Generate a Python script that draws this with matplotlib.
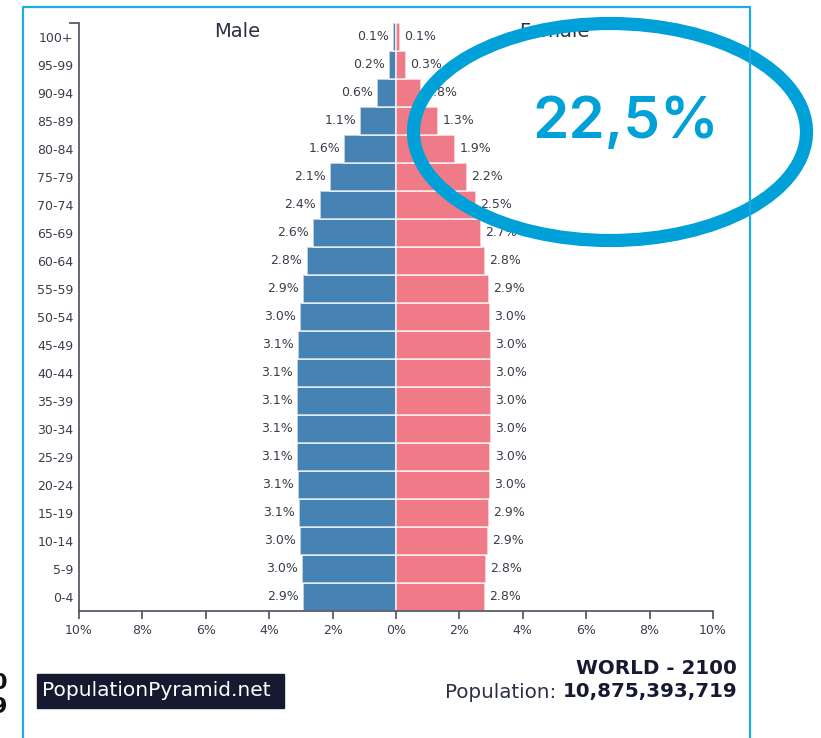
import matplotlib
matplotlib.use("Agg")
import matplotlib.pyplot as plt
from matplotlib.patches import Ellipse, Rectangle

# age groups, youngest first
ages = ["0-4", "5-9", "10-14", "15-19", "20-24", "25-29", "30-34", "35-39",
        "40-44", "45-49", "50-54", "55-59", "60-64", "65-69", "70-74",
        "75-79", "80-84", "85-89", "90-94", "95-99", "100+"]

# share of total population (%)
male = [2.94, 2.97, 3.02, 3.06, 3.08, 3.11, 3.12, 3.12, 3.11, 3.08, 3.03,
        2.94, 2.82, 2.63, 2.39, 2.07, 1.63, 1.13, 0.60, 0.23, 0.09]
female = [2.80, 2.84, 2.89, 2.92, 2.96, 2.98, 3.00, 3.01, 3.01, 3.00, 2.97,
          2.92, 2.81, 2.69, 2.51, 2.24, 1.87, 1.34, 0.79, 0.33, 0.13]

xticks = [-10, -8, -6, -4, -2, 0, 2, 4, 6, 8, 10]
highlight = "22,5%"
region = "WORLD - 2100"
population = "10,875,393,719"

male_col = "#4682b4"
female_col = "#ef7a88"
axis_col = "#4a4f5f"
text_col = "#3a3d4a"
navy = "#161a30"
accent = "#00a0d8"

W, H = 821, 738
fig = plt.figure(figsize=(W / 100, H / 100), dpi=100)
ax = fig.add_axes([79 / W, 127 / H, 634 / W, 588 / H])

y = list(range(len(ages)))
ax.barh(y, [-m for m in male], height=1, color=male_col,
        edgecolor=(1, 1, 1, 0.75), linewidth=1.2)
ax.barh(y, female, height=1, color=female_col,
        edgecolor=(1, 1, 1, 0.75), linewidth=1.2)

for i in y:
    ax.text(-male[i] - 0.13, i, f"{male[i]:.1f}%", ha="right", va="center",
            fontsize=9, color=text_col)
    ax.text(female[i] + 0.13, i, f"{female[i]:.1f}%", ha="left", va="center",
            fontsize=9, color=text_col)

ax.text(-5, 20.21, "Male", ha="center", va="center", fontsize=14, color="#2a2f45")
ax.text(5, 20.21, "Female", ha="center", va="center", fontsize=14, color="#2a2f45")

ax.set_xlim(-10, 10)
ax.set_ylim(-0.5, len(ages) - 0.5)
ax.set_xticks(xticks)
ax.set_xticklabels([f"{abs(t)}%" for t in xticks])
ax.set_yticks(y)
ax.set_yticklabels(ages)
ax.set_yticks([len(ages) - 0.5], minor=True)
ax.tick_params(axis="x", length=6, width=1.2, color=axis_col, labelsize=9,
               labelcolor=text_col, pad=3)
ax.tick_params(axis="y", which="major", length=0, labelsize=9,
               labelcolor=text_col, pad=4)
ax.tick_params(axis="y", which="minor", length=7, width=1.2, color=axis_col)
for s in ["top", "right"]:
    ax.spines[s].set_visible(False)
for s in ["left", "bottom"]:
    ax.spines[s].set_color(axis_col)
    ax.spines[s].set_linewidth(1.2)

# overlay in pixel coordinates for the slide decorations
ov = fig.add_axes([0, 0, 1, 1], zorder=5)
ov.set_xlim(0, W)
ov.set_ylim(H, 0)
ov.axis("off")
ov.patch.set_alpha(0)

ov.plot([23, 23, 750, 750], [H + 5, 6.5, 6.5, H + 5], color="#1eaae4", lw=1.6)

ov.add_patch(Rectangle((37, 674), 247, 34, color=navy))
ov.text(42, 691, "PopulationPyramid.net", ha="left", va="center",
        fontsize=14.5, color="white")

ov.text(737, 668, region, ha="right", va="center", fontsize=14.3,
        fontweight="bold", color=navy)
num = ov.text(737, 692, population, ha="right", va="center", fontsize=14.3,
              fontweight="bold", color=navy)
fig.canvas.draw()
bb = num.get_window_extent()
ov.text(bb.x0, 692, "Population: ", ha="right", va="center", fontsize=14.3,
        color="#2a2f45")

# cut-off text from the neighbouring slide
ov.text(0, 683, "0", ha="center", va="center", fontsize=16,
        fontweight="bold", color="#111")
ov.text(0, 707, "9", ha="center", va="center", fontsize=16,
        fontweight="bold", color="#111")

ov.add_patch(Ellipse((610, 132), 393, 217, fill=False, ec=accent, lw=9.5))
ov.text(626, 123, highlight, ha="center", va="center", fontsize=42,
        fontweight="semibold", family="Inter", color=accent)

fig.savefig("out.png", dpi=100)
